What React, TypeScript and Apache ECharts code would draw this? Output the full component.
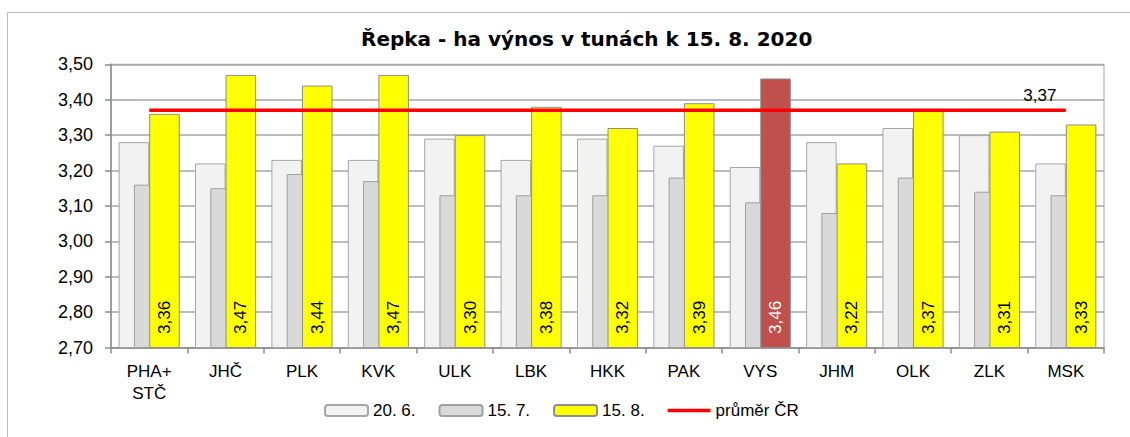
import React, { useEffect, useRef } from "react";
import * as echarts from "echarts";

const titleText = "Řepka - ha výnos v tunách k 15. 8. 2020";
const categories = ["PHA+\nSTČ", "JHČ", "PLK", "KVK", "ULK", "LBK", "HKK", "PAK", "VYS", "JHM", "OLK", "ZLK", "MSK"];
const seriesNames = ["20. 6.", "15. 7.", "15. 8.", "průměr ČR"];
const jun20 = [3.28, 3.22, 3.23, 3.23, 3.29, 3.23, 3.29, 3.27, 3.21, 3.28, 3.32, 3.30, 3.22];
const jul15 = [3.16, 3.15, 3.19, 3.17, 3.13, 3.13, 3.13, 3.18, 3.11, 3.08, 3.18, 3.14, 3.13];
const aug15 = [3.36, 3.47, 3.44, 3.47, 3.30, 3.38, 3.32, 3.39, 3.46, 3.22, 3.37, 3.31, 3.33];
const avgCR = [3.37, 3.37, 3.37, 3.37, 3.37, 3.37, 3.37, 3.37, 3.37, 3.37, 3.37, 3.37, 3.37];
const highlighted = "VYS";
const yMin = 2.7;
const yMax = 3.5;
const yStep = 0.1;

const fmt = (v: number) => v.toFixed(2).replace(".", ",");
const FONT = "'Liberation Sans', Arial, sans-serif";

export default function App() {
  const ref = useRef<HTMLDivElement>(null);
  useEffect(() => {
    if (!ref.current) return;
    const chart = echarts.init(ref.current, undefined, { renderer: "svg" });
    const hiIdx = categories.indexOf(highlighted);
    const augData = aug15.map((v, i) =>
      i === hiIdx
        ? { value: v, itemStyle: { color: "#C0504D", borderColor: "#8E8E8E" }, label: { color: "#FFFFFF" } }
        : v
    );
    chart.setOption({
      animation: false,
      textStyle: { fontFamily: FONT },
      graphic: [
        {
          type: "rect",
          silent: true,
          shape: { x: 7.5, y: 12.5, width: 1200, height: 600 },
          style: { fill: "none", stroke: "#BDBDBD", lineWidth: 1 },
        },
      ],
      title: {
        text: titleText,
        left: 361,
        top: 29,
        padding: 0,
        textStyle: { fontFamily: "'DejaVu Sans', sans-serif", fontWeight: "bold", fontSize: 20, color: "#000" },
      },
      legend: {
        left: 324,
        top: 402,
        padding: 0,
        itemWidth: 43,
        itemHeight: 11,
        itemGap: 23,
        textStyle: { fontFamily: FONT, fontSize: 17, color: "#000" },
        data: [
          { name: seriesNames[0] },
          { name: seriesNames[1] },
          { name: seriesNames[2] },
          { name: seriesNames[3], icon: "path://M0,0 L43,0 L43,3.5 L0,3.5 Z" },
        ],
      },
      grid: {
        left: 111,
        right: 26,
        top: 64.3,
        bottom: 89.5,
        show: true,
        borderColor: "#A6A6A6",
        borderWidth: 1,
        backgroundColor: "transparent",
      },
      xAxis: {
        type: "category",
        data: categories,
        boundaryGap: true,
        axisLine: { show: true, lineStyle: { color: "#8C8C8C", width: 1.5 } },
        axisTick: { show: true, interval: 0, length: 6, lineStyle: { color: "#8C8C8C", width: 1.5 } },
        axisLabel: { interval: 0, color: "#000", fontSize: 17, margin: 13, lineHeight: 22, fontFamily: FONT },
        splitLine: { show: false },
      },
      yAxis: {
        type: "value",
        min: yMin,
        max: yMax,
        interval: yStep,
        axisLine: { show: true, lineStyle: { color: "#8C8C8C", width: 1.5 } },
        axisTick: { show: true, length: 6, lineStyle: { color: "#8C8C8C", width: 1.5 } },
        axisLabel: { color: "#000", fontSize: 18, margin: 18, fontFamily: FONT, formatter: (v: number) => fmt(v) },
        splitLine: { show: true, lineStyle: { color: "#A6A6A6", width: 1.5 } },
      },
      series: [
        {
          name: seriesNames[0],
          type: "bar",
          data: jun20,
          barGap: "-50%",
          barCategoryGap: "20%",
          itemStyle: { color: "#F2F2F2", borderColor: "#A6A6A6", borderWidth: 1 },
        },
        {
          name: seriesNames[1],
          type: "bar",
          data: jul15,
          barGap: "-50%",
          barCategoryGap: "20%",
          itemStyle: { color: "#D9D9D9", borderColor: "#A0A0A0", borderWidth: 1 },
        },
        {
          name: seriesNames[2],
          type: "bar",
          data: augData,
          barGap: "-50%",
          barCategoryGap: "20%",
          itemStyle: { color: "#FFFF00", borderColor: "#8E8E8E", borderWidth: 1 },
          label: {
            show: true,
            position: "insideBottom",
            rotate: 90,
            align: "left",
            verticalAlign: "middle",
            distance: 14,
            fontSize: 17,
            fontFamily: FONT,
            color: "#000",
            formatter: (p: any) => fmt(p.value),
          },
        },
        {
          name: seriesNames[3],
          type: "line",
          data: avgCR,
          symbol: "none",
          z: 5,
          lineStyle: { color: "#FF0000", width: 3.5 },
          itemStyle: { color: "#FF0000" },
          endLabel: {
            show: true,
            formatter: (p: any) => fmt(p.value),
            align: "center",
            verticalAlign: "bottom",
            distance: 0,
            offset: [-26, -6],
            fontSize: 17,
            fontFamily: FONT,
            color: "#000",
          },
        },
      ],
    });
    return () => chart.dispose();
  }, []);
  return (
    <div
      ref={ref}
      style={{ position: "fixed", left: 0, top: 0, width: 1130, height: 437, background: "#fff" }}
    />
  );
}
